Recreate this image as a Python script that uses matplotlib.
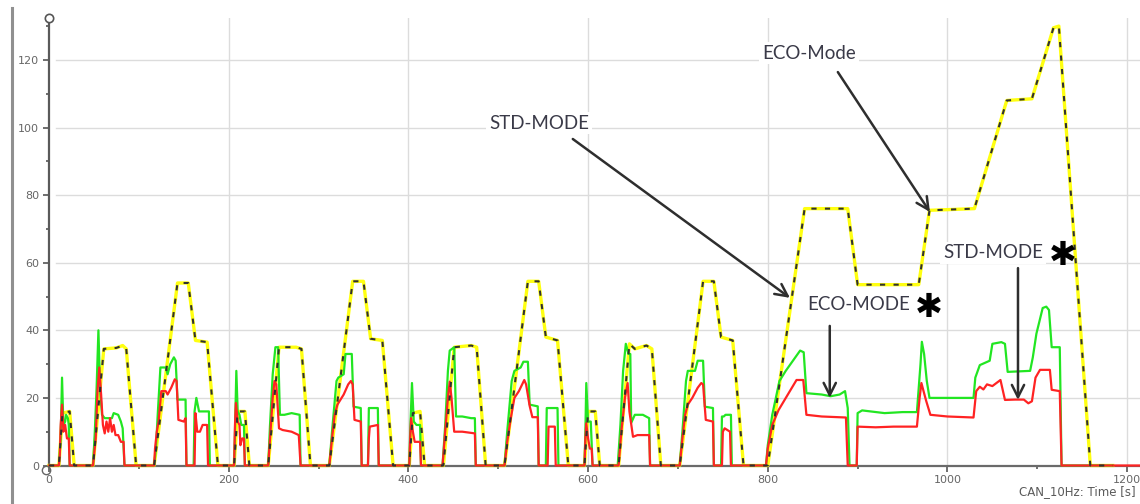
import matplotlib
matplotlib.use("Agg")
import matplotlib.pyplot as plt
from matplotlib.lines import Line2D

# ---- vehicle speed (km/h) over the driving cycle ----
speed_t = [0, 11, 15, 23, 28, 49, 61, 75, 82, 86, 97, 117, 143, 155, 163, 176, 188,
           206, 210, 218, 223, 244, 256, 275, 281, 291, 312, 338, 350, 358, 371, 383,
           401, 405, 413, 418, 439, 451, 470, 476, 486, 507, 533, 545, 553, 566, 578,
           596, 600, 608, 613, 634, 646, 652, 665, 671, 681, 702, 728, 740, 748, 761, 773,
           800, 841, 889, 900, 968, 980, 1030, 1066, 1094, 1118, 1124, 1159, 1184]
speed_v = [0, 0, 15.5, 16, 0, 0, 34.5, 34.8, 35.5, 34.5, 0, 0, 54, 54, 37, 36.5, 0,
           0, 16, 16, 0, 0, 35, 35, 34.5, 0, 0, 54.5, 54.5, 37.5, 37, 0,
           0, 15.5, 16, 0, 0, 35, 35.5, 35, 0, 0, 54.5, 54.5, 38, 37, 0,
           0, 16, 16, 0, 0, 36, 34.5, 35.5, 34.5, 0, 0, 54.5, 54.5, 38, 37, 0,
           0, 76, 76, 53.5, 53.5, 75.5, 76, 108, 108.5, 129.5, 130, 0, 0]

# ---- green trace ----
green_t = [0, 11, 13, 14.5, 16, 18, 19, 21, 22, 23,
           49, 51, 53, 55, 57, 59, 62, 70, 72, 77, 80, 82, 84,
           117, 119, 121, 124, 130, 132, 135, 139, 141, 143, 152, 153,
           161, 162, 164, 167, 178, 179,
           206, 207, 208.5, 210, 212, 214, 217, 218,
           244, 246, 249, 252, 255, 257, 262, 270, 279, 280,
           312, 315, 320, 322, 328, 330, 337, 339, 347, 348,
           355, 356, 366, 367,
           401, 402, 404, 406, 409, 413, 414,
           438, 441, 444, 446, 451, 453, 460, 470, 474, 475,
           507, 510, 515, 518, 525, 528, 533, 535, 544, 545,
           553, 554, 566, 567,
           596, 597, 598, 600, 603, 605,
           633, 636, 639, 642, 645, 647, 648, 652, 661, 668, 669,
           702, 705, 709, 711, 719, 722, 728, 730, 739, 740,
           748, 749, 751, 753, 759, 760,
           798, 800, 805, 813, 820, 828, 836, 840, 843, 860, 870, 880, 886, 889, 891,
           899, 900, 905, 930, 950, 966, 970, 971.5, 974, 977, 980, 1029, 1031, 1036,
           1047, 1050, 1060, 1064, 1067, 1092, 1095, 1099, 1106, 1110, 1113, 1116,
           1125, 1127, 1184]
green_v = [0, 0, 8, 26, 12, 13, 15, 14, 12, 0,
           0, 10, 23, 40, 22, 15, 14, 14, 15.5, 15, 13, 11, 0,
           0, 5, 15, 29, 29, 27, 30, 32, 31, 19.5, 19.5, 0,
           0, 16, 20, 16, 16, 0,
           0, 10, 28, 16, 15, 12, 12, 0,
           0, 12, 27, 35, 35, 15, 15, 15.5, 15, 0,
           0, 10, 25, 26, 27, 33, 33, 17.4, 17, 0,
           0, 17, 17, 0,
           0, 10, 24.4, 13, 12, 12, 0,
           0, 12, 28, 34, 35, 14.5, 14.5, 14, 14, 0,
           0, 10, 25, 28, 29, 30.7, 30.7, 18, 17.5, 0,
           0, 17, 17, 0,
           0, 10, 24.4, 13, 13, 0,
           0, 12, 28, 36, 33, 33, 12.6, 15, 15, 14, 0,
           0, 10, 25, 28, 28, 31, 31, 17.4, 17, 0,
           0, 14.5, 14.5, 15, 15, 0,
           0, 6, 15, 25, 28, 31, 34, 33.5, 21.4, 21, 20.5, 21, 22, 17, 0,
           0, 15.5, 16.3, 15.5, 15.8, 15.8, 30, 36.6, 33, 25, 20, 20, 26, 29.7,
           31, 36, 36.5, 36, 27.7, 28, 32, 39, 46.6, 47, 46, 35,
           35, 0, 0]

# ---- red trace ----
red_t = [0, 11, 12, 13, 14.5, 16, 18, 20, 22, 23,
         49, 52, 54, 56, 58, 60, 62, 64, 66, 68, 70, 72, 74, 77, 80, 83, 84,
         117, 118, 120, 122, 125, 130, 132, 136, 140, 142, 144, 150, 152, 153,
         162, 163, 165, 168, 171, 176, 177,
         206, 207, 208, 210, 212, 213, 215, 217, 218,
         244, 246, 249, 251, 253, 256, 260, 270, 278, 280,
         312, 315, 318, 321, 328, 333, 336, 338, 340, 347, 348,
         355, 356, 357, 366, 367,
         401, 402, 403, 405, 407, 413, 414,
         438, 441, 444, 446, 448, 451, 460, 474, 475,
         507, 510, 514, 518, 523, 529, 531, 535, 538, 544, 545,
         555, 556, 563, 564,
         596, 597, 598, 600, 602, 604, 605,
         634, 637, 641, 644, 646, 650, 655, 668, 669,
         702, 705, 708, 711, 716, 722, 726, 728, 731, 739, 740,
         749, 750, 752, 758, 759,
         798, 800, 805, 812, 821, 832, 839.5, 843, 860, 887, 889,
         899, 900, 920, 940, 966, 969, 971, 976, 981, 1000, 1029, 1032, 1036,
         1040, 1044, 1050, 1055, 1059, 1064, 1075, 1085, 1090, 1094, 1098, 1103,
         1114, 1116, 1125, 1127, 1214]
red_v = [0, 0, 3, 12, 18, 10, 12, 8, 8, 0,
         0, 8, 22, 29, 21, 12, 9.5, 13, 10, 14, 10, 12, 9, 9, 7, 7, 0,
         0, 5, 10, 13, 22, 22, 21, 23, 25.5, 25, 13.5, 13, 14, 0,
         0, 15.5, 10, 10, 12, 12, 0,
         0, 12, 18.5, 13, 12, 6, 8, 8, 0,
         0, 8, 20, 25, 24, 11, 10.5, 10, 9, 0,
         0, 8, 15, 18, 21, 24, 25, 24, 13.5, 13, 0,
         0, 8, 11.5, 12, 0,
         0, 8, 14, 10, 7, 7, 0,
         0, 10, 20, 24.8, 20, 10, 10, 9.5, 0,
         0, 7, 14, 20, 22, 25.3, 24, 17.6, 14.3, 14.3, 0,
         0, 11.5, 11.5, 0,
         0, 8, 12.5, 8, 5, 5, 0,
         0, 10, 20, 24.4, 16, 8.5, 9, 9, 0,
         0, 8, 15, 18, 20, 23, 24.4, 24, 13.5, 13, 0,
         0, 10, 11, 10, 0,
         0, 5, 12, 16.4, 20.4, 25.3, 25.3, 15, 14.5, 14.2, 0,
         0, 11.5, 11.3, 11.5, 11.5, 20, 24.4, 19.4, 15, 14.5, 14.2, 22, 23.3,
         22.5, 24, 23.5, 24.5, 25.3, 19.4, 19.5, 19.5, 18.4, 19, 26, 28.3,
         28.3, 22.4, 22, 0, 0]

x_ticks = [0, 200, 400, 600, 800, 1000, 1200]
y_ticks = [0, 20, 40, 60, 80, 100, 120]

W, H = 1140, 504
fig = plt.figure(figsize=(W / 100, H / 100), dpi=100)
ax = fig.add_axes([49 / W, (H - 465.5) / H, (W - 49) / W, (465.5 - 18) / H])
ax.set_xlim(0, 1214.3)
ax.set_ylim(0, 132.4)

# grid
for x in x_ticks[1:]:
    ax.axvline(x, color="#dcdcdc", lw=1.0, zorder=0)
for y in y_ticks[1:]:
    ax.axhline(y, xmin=0.006, color="#dcdcdc", lw=1.0, zorder=0)

# traces
ax.plot(speed_t, speed_v, color="#ffff10", lw=2.4, zorder=3, clip_on=False)
ax.plot(green_t, green_v, color="#22e622", lw=1.6, zorder=4, clip_on=False)
ax.plot(red_t, red_v, color="#ff2323", lw=1.6, zorder=4, clip_on=False)
ax.plot(speed_t, speed_v, color="#303030", lw=1.5, zorder=5, clip_on=False,
        dashes=(2.5, 4.0))

# axes styling
for s in ("top", "right"):
    ax.spines[s].set_visible(False)
ax.spines["left"].set_color("#5a5a5a")
ax.spines["left"].set_linewidth(1.6)
ax.spines["bottom"].set_color("#6a6a6a")
ax.spines["bottom"].set_linewidth(1.6)
ax.spines["bottom"].set_zorder(2)

ax.set_xticks(x_ticks)
ax.set_yticks(y_ticks)
ax.set_xticks(range(100, 1300, 200), minor=True)
ax.set_yticks(range(10, 140, 20), minor=True)
ax.tick_params(axis="both", which="major", labelsize=8, labelcolor="#666666",
               color="#555555", length=4, width=1.2)
ax.tick_params(axis="both", which="minor", color="#555555", length=2, width=1.2)
ax.tick_params(axis="y", pad=3)
ax.tick_params(axis="x", pad=3)

# small circle markers on the axis ends
ax.plot([0], [132.4], marker="o", ms=6, mfc="white", mec="#555555", mew=1.2,
        clip_on=False, zorder=6)
ax.plot([-3], [-1.2], marker="o", ms=6, mfc="none", mec="#666666", mew=1.0,
        clip_on=False, zorder=6)

# outer frame line on the left
fig.add_artist(Line2D([12 / W, 12 / W], [0, (H - 8) / H], color="#909090", lw=2.2))

fig.text(1019 / W, (H - 492) / H, "CAN_10Hz: Time [s]", fontsize=8.5,
         color="#5a5a5a", ha="left", va="center")

# annotations
txt_kw = dict(fontsize=13.5, color="#3a3a48", family=["Lato", "DejaVu Sans"],
              ha="center", va="center", zorder=8,
              bbox=dict(boxstyle="square,pad=0.15", fc="white", ec="none"))
star_kw = dict(fontsize=24, color="black", ha="center", va="center", zorder=8,
               family=["DejaVu Sans"])
arrow_kw = dict(arrowstyle="->", color="#2e2e2e", lw=1.8, mutation_scale=22,
                shrinkA=0, shrinkB=0)

ax.text(545.5, 101.3, "STD-MODE", **txt_kw)
ax.annotate("", xy=(824.7, 49.6), xytext=(583, 96.6), arrowprops=arrow_kw, zorder=8)

ax.text(846, 122, "ECO-Mode", **txt_kw)
ax.annotate("", xy=(980.5, 75), xytext=(878, 116.4), arrowprops=arrow_kw, zorder=8)

ax.text(901.6, 47.5, "ECO-MODE", **txt_kw)
ax.text(979, 46.8, "\u2731", **star_kw)
ax.annotate("", xy=(869, 20), xytext=(869, 41.3), arrowprops=arrow_kw, zorder=8)

ax.text(1051, 62.9, "STD-MODE", **txt_kw)
ax.text(1128, 62.2, "\u2731", **star_kw)
ax.annotate("", xy=(1078.5, 19.4), xytext=(1078.5, 58.4), arrowprops=arrow_kw, zorder=8)

fig.savefig("out.png", dpi=100)
